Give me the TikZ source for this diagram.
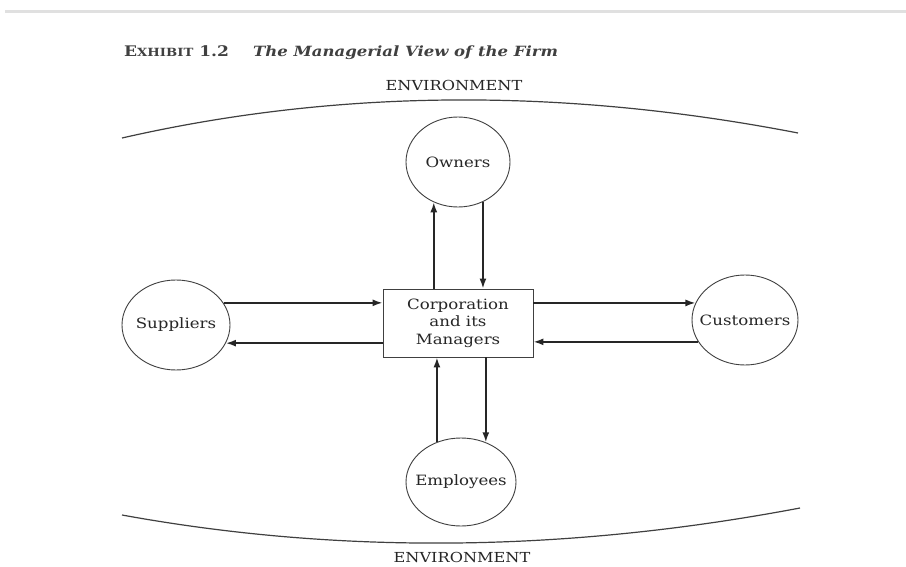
\documentclass[tikz,border=0pt]{standalone}
\usepackage{fontspec}
\setmainfont{DejaVu Serif}[FakeStretch=1.17]
\usetikzlibrary{arrows.meta,shapes.geometric}
\tikzset{
  envlab/.style={font=\fontsize{13.8}{16}\selectfont, text=black!85, inner sep=0pt},
  party/.style={ellipse, draw=black!75, line width=0.9pt, inner sep=0pt,
    font=\fontsize{14.2}{17}\selectfont, text=black!85},
  corp/.style={rectangle, draw=black!75, line width=0.9pt, minimum width=150pt,
    minimum height=68pt, align=center, font=\fontsize{14.2}{17.5}\selectfont, text=black!85},
  arr/.style={-{Latex[length=10pt,width=7pt]}, line width=1.7pt, draw=black!85},
  envline/.style={line width=1.2pt, draw=black!75},
  ttlab/.style={anchor=base west, inner sep=0pt, text=black!75}
}
\begin{document}
\begin{tikzpicture}[x=1pt,y=-1pt]
\fill[white] (0,0) rectangle (906,567);
\useasboundingbox (0,0) rectangle (906,567);
% top gray rule
\draw[black!12, line width=3pt] (5,12) -- (906,12);
% title
\node[ttlab] (exh) at (124,57)
  {\bfseries\fontsize{14.6}{18}\selectfont E\fontsize{11.3}{18}\selectfont XHIBIT\fontsize{14.6}{18}\selectfont\ 1.2};
\node[ttlab] (ttl) at (253,57)
  {\fontsize{14.1}{18}\selectfont\bfseries\itshape The Managerial View of the Firm};
% environment
\node[envlab] (envt) at (454,85) {ENVIRONMENT};
\node[envlab] (envb) at (462,557) {ENVIRONMENT};
\draw[envline] (122,138) .. controls (336.7,89) and (562,87.3) .. (798,133);
\draw[envline] (122,515) .. controls (340,554.7) and (566,552.3) .. (800,508);
% nodes
\node[corp] (box) at (458,323) {Corporation\\and its\\Managers};
\node[party, minimum width=104pt, minimum height=90pt] (own) at (458,162) {\makebox[0pt]{Owners}};
\node[party, minimum width=110pt, minimum height=88pt] (emp) at (461,482) {\makebox[0pt]{Employees}};
\node[party, minimum width=108pt, minimum height=90pt] (sup) at (176,325) {\makebox[0pt]{Suppliers}};
\node[party, minimum width=106pt, minimum height=90pt] (cus) at (745,320) {\makebox[0pt]{Customers}};
% owners
\draw[arr] (box.north -| own.239) -- (own.239);
\draw[arr] (own.302) -- (box.north -| own.302);
% employees
\draw[arr] (emp.121) -- (box.south -| emp.121);
\draw[arr] (box.south -| emp.58) -- (emp.58);
% suppliers
\draw[arr] (sup.25) -- (box.west |- sup.25);
\draw[arr] (box.west |- sup.340) -- (sup.340);
% customers
\draw[arr] (box.east |- cus.161) -- (cus.161);
\draw[arr] (cus.205.5) -- (box.east |- cus.205.5);
\end{tikzpicture}
\end{document}
